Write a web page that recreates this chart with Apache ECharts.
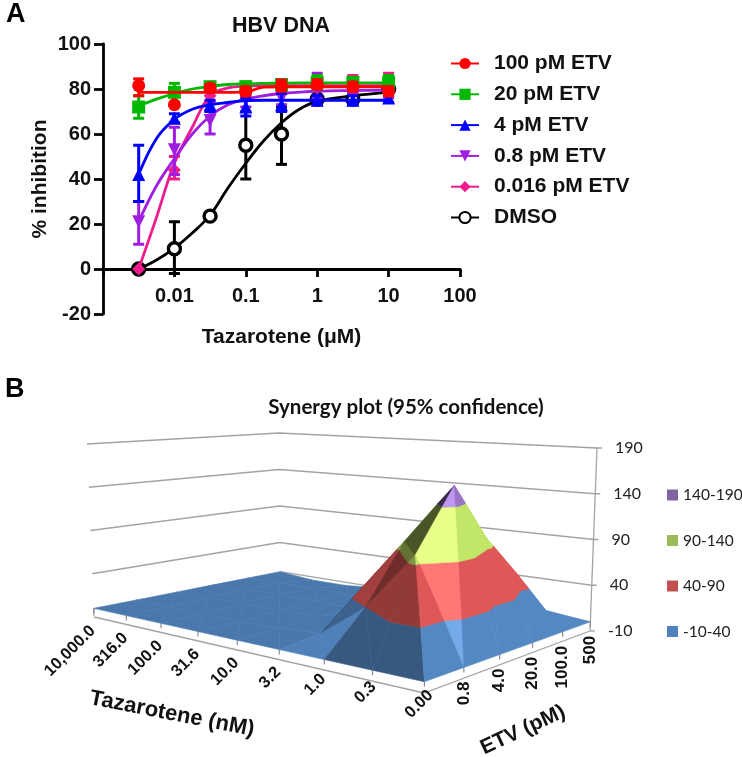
<!DOCTYPE html>
<html><head><meta charset="utf-8">
<style>html,body{margin:0;padding:0;background:#fff}#c{width:742px;height:757px}</style>
<script src="https://cdn.jsdelivr.net/npm/echarts@6/dist/echarts.min.js"></script>
</head><body><div id="c"></div>
<script>
// ---------- Panel A data ----------
const doses = [0.00316,0.01,0.0316,0.1,0.316,1,3.16,10];
const curveX = [0.00316,0.00562,0.01,0.0178,0.0316,0.0562,0.1,0.178,0.316,0.562,1,3.16,10];
const seriesNames = ['100 pM ETV','20 pM ETV','4 pM ETV','0.8 pM ETV','0.016 pM ETV','DMSO'];
const curve100 = [78.5,78.5,78.5,78.5,78.5,78.5,78.7,80.8,81,81,81,81,81];
const curve20  = [72.5,75.5,78,80,81.2,82,82.3,82.5,82.6,82.7,82.7,82.7,82.7];
const curve4   = [42,58,66.5,71,73,74,74.8,75,75,75,75,75,75];
const curve08  = [21,37,49,60,68,73,75.5,77,78,78.6,79,79.3,79.5];
const curve0016= [0,23,47,63,77,80.5,81.3,81.5,81.5,81.5,81.5,81.5,81.5];
const curveDMSO= [0,4,9.3,16,24,36,47,57,65,71,74.5,77,78.5];
const pts100 = [81.5,73,80.5,79,81.5,82,81,79];
const pts20  = [72,78.5,81,81,82,83,83,83];
const pts4   = [42,67,73,72,73,75,75,76];
const pts08  = [21,53,66,75,76,80,80,78];
const pts0016= [0,44,77,81,82,82.5,84,84];
const ptsDMSO= [0,9,23.5,55,60,75.5,75.5,80];
const lo100 = [77,null,79,77,79,80,79,77];
const hi100 = [84.5,null,82,81,84,84,83,81];
const lo20  = [67,74,79,79,80,80,81,80];
const hi20  = [77,82.5,83,83,84,86,85,86];
const lo4   = [30,65,70,68,70,73,73.5,74];
const hi4   = [55,69,75,76,78,77,77,78];
const lo08  = [11,42,60,72,73,76,78,76];
const hi08  = [30,63,70,78,79,87,83,81];
const lo0016= [null,40,74,79,80,80,81,80];
const hi0016= [null,50,80,83,84,85,86,87];
const loDMSO= [null,-2,null,40,46.5,74,73,78];
const hiDMSO= [null,21,null,70,72,77,78,82];
const xTickHidden = 0.001;

// ---------- Panel B data ----------
const tazLabels = ['0.00','0.3','1.0','3.2','10.0','31.6','100.0','316.0','10,000.0'];
const etvLabels = ['0.00','0.8','4.0','20.0','100.0','500'];
const zTicks = [-10,40,90,140,190];
const bandNames = ['140-190','90-140','40-90','-10-40'];
// rows: Tazarotene label index, columns: ETV label index
const synergy = [
 [0,0,0,0,0,0],
 [0,98,160,100,55,5],
 [0,40,98,50,8,0],
 [0,5,14,8,1,0],
 [0,2,4,2,0,0],
 [0,0,2,3,1,0],
 [0,0,2,3,1,-4],
 [0,0,1,2,1,-4],
 [0,0,0,0,0,0]
];
// facet tones that differ from flat shading, keyed "row,column,triangle"
const toneTable = {
 '0,0,0':'dark','0,0,1':'mid','0,1,0':'bright','0,1,1':'mid','0,2,0':'mid','0,2,1':'mid',
 '0,3,0':'mid','0,3,1':'mid','0,4,0':'mid','0,4,1':'mid',
 '1,0,0':'dark','1,0,1':'dark','1,1,0':'deep','1,1,1':'back',
 '2,1,0':'strip','2,1,1':'back','1,3,0':'mid','1,3,1':'mid','1,4,0':'mid','1,4,1':'mid','2,0,1':'flatLight','2,0,0':'flatLight'
};
const tones = {dark:[.74,0],mid:[1.13,0],bright:[1.2,26],deep:[.56,0],back:[.42,0],strip:[.82,0],flatLight:[1.07,0],flat:[1,0]};
// grid cells whose split runs along the other diagonal
const flippedCells = ['2,1'];

// ---------- style / layout ----------
const ARIAL='"Liberation Sans",Arial,sans-serif', CAL='Lato,"Open Sans",sans-serif';
const colors=['#ff0000','#00b800','#0000ff','#a01ee0','#ee1c8e','#000000'];
const shapes=['circle','rect','triangle','triangle','diamond','circle'];
const rotate=[0,0,0,180,0,0];
const curves=[curve100,curve20,curve4,curve08,curve0016,curveDMSO];
const points=[pts100,pts20,pts4,pts08,pts0016,ptsDMSO];
const lows=[lo100,lo20,lo4,lo08,lo0016,loDMSO];
const highs=[hi100,hi20,hi4,hi08,hi0016,hiDMSO];

const series=[];
seriesNames.forEach((name,i)=>{
  const z=10+(5-i)*3, col=colors[i], open=name==='DMSO';
  series.push({type:'line',name,xAxisIndex:0,yAxisIndex:0,z:z+1,smooth:0.4,showSymbol:false,silent:true,animation:false,
    symbol:shapes[i],symbolSize:13,symbolRotate:rotate[i],
    itemStyle:open?{color:'#fff',borderColor:col,borderWidth:3}:{color:col},
    lineStyle:{color:col,width:2.8},
    data:curveX.map((x,k)=>[x,curves[i][k]])});
  series.push({type:'custom',name,xAxisIndex:0,yAxisIndex:0,z,silent:true,animation:false,
    data:doses.map((d,k)=>lows[i][k]==null?null:[d,lows[i][k],highs[i][k]]).filter(Boolean),
    encode:{x:0,y:[1,2]},
    renderItem(p,api){
      const a=api.coord([api.value(0),api.value(1)]),b=api.coord([api.value(0),api.value(2)]);
      const st={stroke:col,lineWidth:3,fill:'none'};
      return {type:'group',children:[
        {type:'line',shape:{x1:a[0],y1:a[1],x2:b[0],y2:b[1]},style:st},
        {type:'line',shape:{x1:a[0]-5.5,y1:a[1],x2:a[0]+5.5,y2:a[1]},style:st},
        {type:'line',shape:{x1:b[0]-5.5,y1:b[1],x2:b[0]+5.5,y2:b[1]},style:st}]};
    }});
  series.push({type:'scatter',name,xAxisIndex:0,yAxisIndex:0,z:z+2,silent:true,animation:false,
    symbol:shapes[i],symbolSize:open?12:13,symbolRotate:rotate[i],
    itemStyle:open?{color:'#fff',borderColor:col,borderWidth:3.4,opacity:1}:{color:col,opacity:1},
    data:doses.map((x,k)=>[x,points[i][k]])});
});

// ---------- Panel B projection ----------
const floorC={F:[424,693],L:[94,617],B:[280,579],R:[590,631]};
const topC={F:[432,468],L:[87,444],B:[279,433],R:[597,448]};
function homog(c){
  const [x0,y0]=c.F,[x1,y1]=c.L,[x2,y2]=c.B,[x3,y3]=c.R;
  const dx1=x1-x2,dx2=x3-x2,sx=x0-x1+x2-x3,dy1=y1-y2,dy2=y3-y2,sy=y0-y1+y2-y3;
  const det=dx1*dy2-dx2*dy1;
  const g=(sx*dy2-dx2*sy)/det,h=(dx1*sy-sx*dy1)/det;
  const a=x1-x0+g*x1,b=x3-x0+h*x3,d=y1-y0+g*y1,e=y3-y0+h*y3;
  return (u,v)=>{const w=g*u+h*v+1;return [(a*u+b*v+x0)/w,(d*u+e*v+y0)/w];};
}
const HF=homog(floorC),HT=homog(topC);
const NU=tazLabels.length-1,NV=etvLabels.length-1;
function proj(i,j,z){
  const f=HF(i/NU,j/NV),t=HT(i/NU,j/NV),k=(z+10)/200;
  return [f[0]+(t[0]-f[0])*k,f[1]+(t[1]-f[1])*k];
}
const bands=[
 {lo:-1000,hi:40,c:[74,120,172]},
 {lo:40,hi:90,c:[196,78,76]},
 {lo:90,hi:140,c:[172,204,92]},
 {lo:140,hi:1000,c:[136,104,178]}];
function clip(poly,zv,keepAbove){
  const out=[];
  for(let n=0;n<poly.length;n++){
    const a=poly[n],b=poly[(n+1)%poly.length];
    const ia=keepAbove?a[2]>=zv:a[2]<=zv, ib=keepAbove?b[2]>=zv:b[2]<=zv;
    if(ia)out.push(a);
    if(ia!==ib){const t=(zv-a[2])/(b[2]-a[2]);out.push([a[0]+(b[0]-a[0])*t,a[1]+(b[1]-a[1])*t,zv]);}
  }
  return out;
}
const pieces=[];
const quads=[];
for(let i=NU-1;i>=0;i--)for(let j=NV-1;j>=0;j--)quads.push([i,j]);
quads.sort((p,q)=>(q[0]+q[1])-(p[0]+p[1]));
quads.forEach(([i,j])=>{
  const A=[i,j,synergy[i][j]],B=[i+1,j,synergy[i+1][j]],C=[i+1,j+1,synergy[i+1][j+1]],D=[i,j+1,synergy[i][j+1]];
  const flip=flippedCells.includes(i+','+j);
  const tris=flip?[[B,C,D],[A,B,D]]:[[A,B,C],[A,D,C]];
  const toneKeys=flip?[1,0]:[0,1];
  tris.forEach((tri,n)=>{
    const [f,add]=tones[toneTable[i+','+j+','+toneKeys[n]]||'flat'];
    bands.forEach(bd=>{
      let poly=clip(tri,bd.lo,true);if(poly.length)poly=clip(poly,bd.hi,false);
      if(poly.length>2){
        const col='rgb('+bd.c.map(v=>Math.min(255,Math.round(v*f+add))).join(',')+')';
        pieces.push({poly,col});
      }
    });
  });
});
series.push({type:'custom',name:'walls',coordinateSystem:'none',z:2,silent:true,animation:false,
  data:zTicks.map(z=>[z]),
  renderItem(p,api){
    const z=api.value(0);
    const L=proj(NU,0,z),B=proj(NU,NV,z),R=proj(0,NV,z),tick=[R[0]+5,R[1]];
    const st={stroke:'#a3a3a3',lineWidth:1.3,fill:'none'};
    const kids=[];
    if(z>-10)kids.push({type:'polyline',shape:{points:[L,B,R,tick]},style:st});
    else kids.push({type:'polyline',shape:{points:[R,tick]},style:st},
      {type:'polyline',shape:{points:[L,proj(0,0,-10),R]},style:st},
      {type:'line',shape:{x1:R[0],y1:R[1],x2:proj(0,NV,190)[0],y2:proj(0,NV,190)[1]},style:st},
      {type:'line',shape:{x1:L[0],y1:L[1]-1,x2:L[0],y2:L[1]-9},style:st},
      {type:'polyline',shape:{points:[proj(NU,NV,0),proj(0,NV,0)]},style:st});
    return {type:'group',children:kids};
  }});
series.push({type:'custom',name:'surface',coordinateSystem:'none',z:3,silent:true,animation:false,
  data:pieces.map((_,k)=>[k]),
  renderItem(p,api){
    const s=pieces[api.value(0)];
    return {type:'polygon',shape:{points:s.poly.map(q=>proj(q[0],q[1],q[2]))},
      style:{fill:s.col,stroke:s.col,lineWidth:0.6}};
  }});
// ticks + labels of the 3D axes
const labelTxt=(x,y,text,rot,font,size,weight,align,col)=>({type:'text',x,y,rotation:rot,
  style:{text,fontFamily:font,fontSize:size,fontWeight:weight,fill:col||'#111',align:align,verticalAlign:'middle'}});
const tickSt={stroke:'#8c8c8c',lineWidth:1.2};
series.push({type:'custom',name:'tazTicks',coordinateSystem:'none',z:4,silent:true,animation:false,
  data:tazLabels.map((_,k)=>[k]),
  renderItem(p,api){
    const i=api.value(0),a=proj(i,0,0),t=tazLabels[i];
    const dx=i===0?6:(i===1?1:-1), dy=i>=3?20:11+3*i;
    return {type:'group',children:[
      {type:'line',shape:{x1:a[0],y1:a[1],x2:a[0],y2:a[1]+5},style:tickSt},
      labelTxt(a[0]+dx,a[1]+dy,t,Math.PI/4,ARIAL,16.5,'bold','right')]};
  }});
series.push({type:'custom',name:'etvTicks',coordinateSystem:'none',z:4,silent:true,animation:false,
  data:etvLabels.map((_,k)=>[k]).slice(1),
  renderItem(p,api){
    const j=api.value(0),a=proj(0,j,0),t=etvLabels[j];
    return {type:'group',children:[
      {type:'line',shape:{x1:a[0],y1:a[1],x2:a[0],y2:a[1]+5},style:tickSt},
      labelTxt(a[0],a[1]+14,t,Math.PI/2,ARIAL,17,'bold','right')]};
  }});
series.push({type:'custom',name:'zLabels',coordinateSystem:'none',z:4,silent:true,animation:false,
  data:zTicks.map(z=>[z]),
  renderItem(p,api){
    const z=api.value(0),a=proj(0,NV,z);
    return labelTxt(a[0]+18,a[1],String(z),0,CAL,16,'normal','left','#222');
  }});
const axisTitles=[['Tazarotene (nM)',172,714,-11*Math.PI/180,22],['ETV (pM)',523,730,25*Math.PI/180,21]];
series.push({type:'custom',name:'axisTitles',coordinateSystem:'none',z:4,silent:true,animation:false,
  data:axisTitles.map((_,k)=>[k]),
  renderItem(p,api){const t=axisTitles[api.value(0)];
    return labelTxt(t[1],t[2],t[0],t[3],ARIAL,t[4],'bold','center');}
});
// legend entries of the surface bands
const bandColors=['#8064a2','#9bbb59','#c0504d','#4f81bd'];
bandNames.forEach((n,i)=>series.push({type:'scatter',name:n,data:[],xAxisIndex:0,yAxisIndex:0,symbol:'rect',
  itemStyle:{color:bandColors[i],opacity:1}}));

const chart=echarts.init(document.getElementById('c'));
chart.setOption({
  animation:false,backgroundColor:'#fff',
  title:[
    {text:'A',left:1,top:-4,textStyle:{fontFamily:ARIAL,fontSize:27,fontWeight:'bold',color:'#000'}},
    {text:'B',left:0,top:371,textStyle:{fontFamily:ARIAL,fontSize:27,fontWeight:'bold',color:'#000'}},
    {text:'HBV DNA',left:276,top:10,textAlign:'center',textStyle:{fontFamily:ARIAL,fontSize:21.5,fontWeight:'bold',color:'#111'}},
    {text:'Synergy plot (95% confidence)',left:401,top:392,textAlign:'center',textStyle:{fontFamily:CAL,fontSize:20.5,fontWeight:'bold',color:'#111'}}
  ],
  grid:{left:103,right:282,top:44,bottom:443,containLabel:false},
  xAxis:{type:'log',logBase:10,min:0.001,max:100,
    name:'Tazarotene (\u03bcM)',nameLocation:'middle',nameGap:13,nameMoveOverlap:false,
    nameTextStyle:{fontFamily:ARIAL,fontSize:21,fontWeight:'bold',color:'#111'},
    splitLine:{show:false},minorTick:{show:false},
    axisLine:{onZero:true,lineStyle:{color:'#000',width:2.8}},
    axisTick:{length:8,lineStyle:{color:'#000',width:2.8}},
    axisLabel:{margin:-28,fontFamily:ARIAL,fontSize:20,fontWeight:'bold',color:'#111',showMinLabel:true,
      formatter:v=>v<=xTickHidden*1.5?'':String(+(+v).toPrecision(1))}},
  yAxis:{type:'value',min:-20,max:100,interval:20,
    name:'% inhibition',nameLocation:'middle',nameGap:52,
    nameTextStyle:{fontFamily:ARIAL,fontSize:21,fontWeight:'bold',color:'#111'},
    splitLine:{show:false},
    axisLine:{show:true,lineStyle:{color:'#000',width:2.8}},
    axisTick:{show:true,length:9,lineStyle:{color:'#000',width:2.8}},
    axisLabel:{margin:12,fontFamily:ARIAL,fontSize:20,fontWeight:'bold',color:'#111'}},
  legend:[
    {data:seriesNames,orient:'vertical',left:450,top:53,padding:0,itemWidth:28,itemHeight:14,itemGap:9.8,
     formatter:n=>'{t|'+n+'}',
     textStyle:{rich:{t:{fontFamily:ARIAL,fontSize:21,fontWeight:'bold',color:'#111',padding:[0,0,0,10],lineHeight:24}}}},
    {data:bandNames,orient:'vertical',left:667,top:485,padding:0,itemWidth:11,itemHeight:11,itemGap:25.5,
     formatter:n=>n,
     textStyle:{fontFamily:CAL,fontSize:15.5,color:'#222',lineHeight:20}}
  ],
  series
});
</script></body></html>
